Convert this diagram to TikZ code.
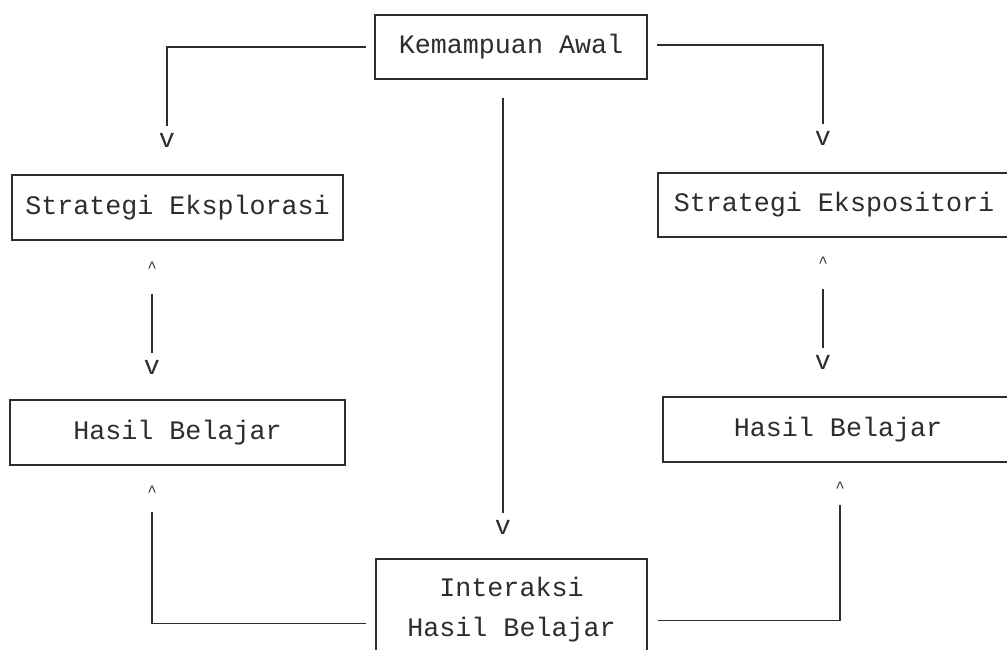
\documentclass[tikz,border=0pt]{standalone}
\usepackage{fontspec}
\setmonofont{Liberation Mono}
\usetikzlibrary{calc,positioning}
\definecolor{ink}{RGB}{45,45,45}

\begin{document}
\begin{tikzpicture}[x=0.02cm,y=-0.02cm,
    font=\ttfamily\fontsize{15.2}{22.8}\selectfont,color=ink,
    box/.style={draw=ink,line width=0.8pt,inner sep=0pt},
    mk/.style={inner sep=4pt},
    conn/.style={draw=ink,line width=0.8pt}]
  \useasboundingbox[fill=white] (0,0) rectangle (1007,649);
  % boxes
  \node[box,minimum width=5.44cm,minimum height=1.28cm] (awal) at (511,47) {Kemampuan Awal};
  \node[box,minimum width=6.62cm,minimum height=1.3cm] (eksplor) at (177.5,207.5) {Strategi Eksplorasi};
  \node[box,minimum width=7.04cm,minimum height=1.28cm] (ekspos) at (834,205) {Strategi Ekspositori};
  \node[box,minimum width=6.7cm,minimum height=1.3cm] (hasilL) at (177.5,432.5) {Hasil Belajar};
  \node[box,minimum width=7.0cm,minimum height=1.3cm] (hasilR) at (838,429.5) {Hasil Belajar};
  \node[box,minimum width=5.42cm,minimum height=2.02cm,align=center] (inter) at (511.5,609.5) {Interaksi\\Hasil Belajar};
  % typed arrow heads
  \node[mk] (vA) at (167,140) {v};
  \node[mk] (vB) at (823,138) {v};
  \node[mk] (vC) at (503,527) {v};
  \node[mk,font=\ttfamily\small] (upL) at (152,267) {\textasciicircum};
  \node[mk] (dnL) at (152,367) {v};
  \node[mk,font=\ttfamily\small] (upR) at (823,262) {\textasciicircum};
  \node[mk] (dnR) at (823,362) {v};
  \node[mk,font=\ttfamily\small] (upL2) at (152,491) {\textasciicircum};
  \node[mk,font=\ttfamily\small] (upR2) at (840,487) {\textasciicircum};
  % connectors
  \draw[conn] ($(awal.west)+(-8,0)$) -| (vA);
  \draw[conn] ($(awal.east)+(9,-2)$) -| (vB);
  \draw[conn] ($(awal.south -| vC)+(0,18)$) -- (vC);
  \draw[conn,shorten <=8pt] (upL) -- (dnL);
  \draw[conn,shorten <=8pt] (upR) -- (dnR);
  \draw[conn,shorten >=5pt] ($(inter.west)+(-9,14)$) -| (upL2);
  \draw[conn,shorten >=3pt] ($(inter.east)+(10,11)$) -| (upR2);
\end{tikzpicture}
\end{document}
